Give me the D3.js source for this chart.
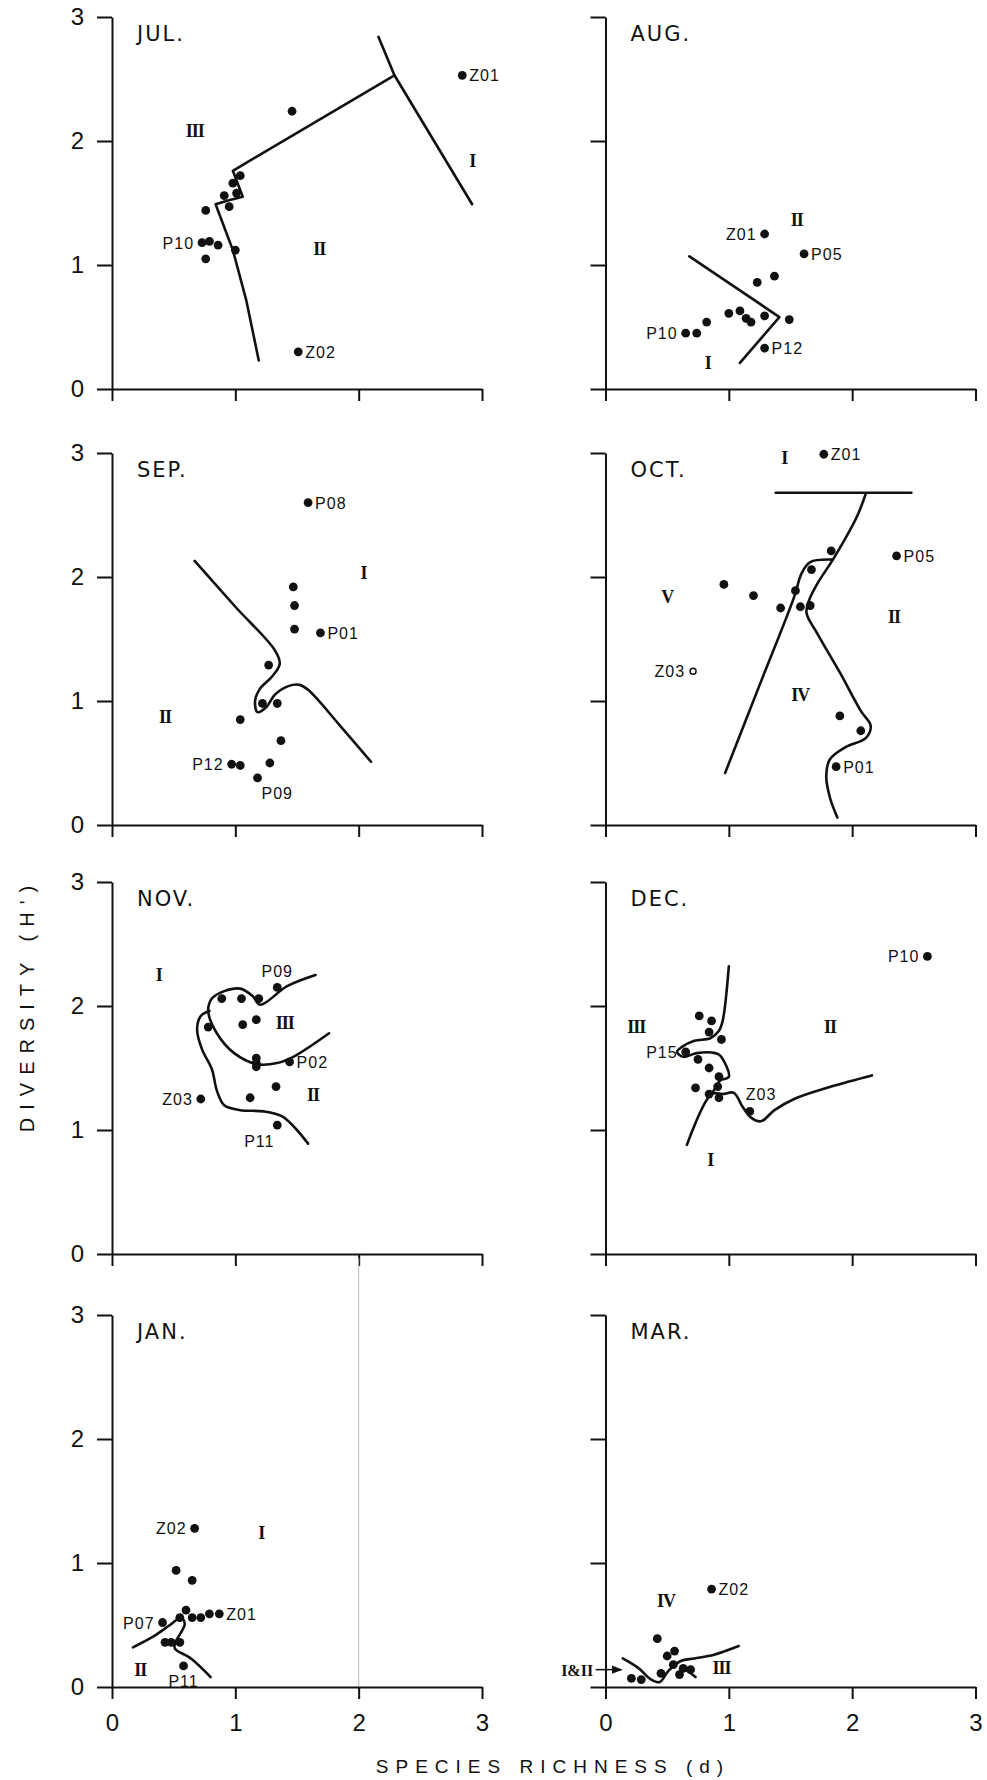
<!DOCTYPE html>
<html><head><meta charset="utf-8">
<script src="https://cdn.jsdelivr.net/npm/d3@7"></script>
<style>body{margin:0;background:#fff}</style>
</head><body>
<svg id="c" width="987" height="1780"></svg>
<script>
const months = ["JUL.","AUG.","SEP.","OCT.","NOV.","DEC.","JAN.","MAR."];
const xTicks = [0,1,2,3];
const yTicks = [0,1,2,3];
const xTickLabels = ["0","1","2","3"];
const yTickLabels = ["0","1","2","3"];
const xTitle = "SPECIES RICHNESS (d)";
const yTitle = "DIVERSITY (H')";

// points: [richness d, diversity H', station]
const julPoints = [[2.84,2.53,"Z01"],[1.46,2.24,""],[1.04,1.72,""],[0.98,1.66,""],[1.01,1.58,""],[0.91,1.56,""],[0.95,1.47,""],[0.76,1.44,""],[0.73,1.18,"P10"],[0.79,1.19,""],[0.86,1.16,""],[1.00,1.12,""],[0.76,1.05,""],[1.51,0.30,"Z02"]];
const augPoints = [[1.29,1.25,"Z01"],[1.61,1.09,"P05"],[1.37,0.91,""],[1.23,0.86,""],[1.00,0.61,""],[1.09,0.63,""],[1.14,0.57,""],[1.18,0.54,""],[1.29,0.59,""],[1.49,0.56,""],[0.82,0.54,""],[0.74,0.45,""],[0.65,0.45,"P10"],[1.29,0.33,"P12"]];
const sepPoints = [[1.59,2.60,"P08"],[1.47,1.92,""],[1.48,1.77,""],[1.48,1.58,""],[1.69,1.55,"P01"],[1.27,1.29,""],[1.22,0.98,""],[1.34,0.98,""],[1.04,0.85,""],[1.37,0.68,""],[0.97,0.49,"P12"],[1.04,0.48,""],[1.28,0.50,""],[1.18,0.38,"P09"]];
const octPoints = [[1.77,2.99,"Z01"],[2.36,2.17,"P05"],[1.83,2.21,""],[1.67,2.06,""],[0.96,1.94,""],[1.20,1.85,""],[1.54,1.89,""],[1.42,1.75,""],[1.58,1.76,""],[1.66,1.77,""],[1.90,0.88,""],[2.07,0.76,""],[1.87,0.47,"P01"],[0.71,1.24,"Z03"]];
const novPoints = [[1.34,2.15,"P09"],[0.89,2.06,""],[1.05,2.06,""],[1.19,2.06,""],[0.78,1.83,""],[1.06,1.85,""],[1.17,1.89,""],[1.17,1.58,""],[1.17,1.54,""],[1.17,1.51,""],[1.44,1.55,"P02"],[1.33,1.35,""],[1.12,1.26,""],[0.72,1.25,"Z03"],[1.34,1.04,"P11"]];
const decPoints = [[2.61,2.40,"P10"],[0.76,1.92,""],[0.86,1.88,""],[0.84,1.79,""],[0.94,1.73,""],[0.65,1.63,"P15"],[0.75,1.57,""],[0.84,1.50,""],[0.92,1.43,""],[0.91,1.35,""],[0.73,1.34,""],[0.84,1.29,""],[0.92,1.26,""],[1.17,1.15,"Z03"]];
const janPoints = [[0.67,1.28,"Z02"],[0.52,0.94,""],[0.65,0.86,""],[0.60,0.62,""],[0.65,0.56,""],[0.72,0.56,""],[0.79,0.59,""],[0.87,0.59,"Z01"],[0.41,0.52,"P07"],[0.55,0.56,""],[0.43,0.36,""],[0.48,0.36,""],[0.55,0.36,""],[0.58,0.17,"P11"]];
const marPoints = [[0.86,0.79,"Z02"],[0.42,0.39,""],[0.50,0.25,""],[0.56,0.29,""],[0.45,0.11,""],[0.60,0.10,""],[0.63,0.15,""],[0.69,0.14,""],[0.55,0.18,""],[0.21,0.07,""],[0.29,0.06,""]];

// boundary lines between groups
const julLines = [
  [[1.19,0.23],[1.09,0.71],[0.98,1.12],[0.84,1.49],[0.94,1.52],[1.06,1.55],[0.98,1.76],[2.29,2.53]],
  [[2.16,2.84],[2.29,2.53],[2.92,1.49]]
];
const augLines = [[[0.68,1.07],[1.41,0.58],[1.09,0.21]]];
const sepLines = [[[0.67,2.13],[1.00,1.76],[1.32,1.41],[1.36,1.30],[1.30,1.20],[1.20,1.10],[1.16,1.00],[1.18,0.91],[1.25,0.95],[1.32,1.05],[1.43,1.12],[1.52,1.13],[1.59,1.09],[1.85,0.80],[2.10,0.51]]];
const octLines = [
  [[1.38,2.68],[2.48,2.68]],
  [[0.97,0.42],[1.25,1.13],[1.53,1.84],[1.59,2.03],[1.66,2.12],[1.84,2.14]],
  [[2.11,2.67],[2.04,2.49],[1.85,2.15],[1.72,1.95],[1.65,1.81],[1.63,1.71],[1.72,1.54],[1.90,1.23],[2.07,0.92],[2.15,0.80],[2.11,0.70],[1.95,0.63],[1.82,0.53],[1.79,0.39],[1.82,0.22],[1.88,0.06]]
];
const novLines = [
  [[1.65,2.25],[1.42,2.16],[1.20,2.01],[1.14,2.08],[1.04,2.14],[0.91,2.12],[0.81,2.06],[0.78,1.96],[0.85,1.78],[0.99,1.62],[1.18,1.53],[1.34,1.54],[1.47,1.59],[1.76,1.78]],
  [[0.79,1.96],[0.72,1.92],[0.69,1.81],[0.73,1.65],[0.81,1.49],[0.85,1.32],[0.91,1.20],[1.04,1.16],[1.23,1.15],[1.38,1.11],[1.49,1.01],[1.59,0.89]]
];
const decLines = [
  [[1.00,2.32],[0.95,1.88],[0.92,1.80],[0.85,1.74],[0.72,1.72],[0.62,1.67],[0.58,1.63],[0.63,1.59],[0.74,1.62],[0.89,1.62],[0.93,1.60],[1.00,1.43],[0.93,1.40],[0.89,1.34],[0.86,1.29]],
  [[0.66,0.88],[0.86,1.29],[0.95,1.29],[1.04,1.30],[1.11,1.19],[1.18,1.10],[1.26,1.07],[1.37,1.16],[1.53,1.25],[1.83,1.35],[2.16,1.44]]
];
const janLines = [[[0.17,0.32],[0.34,0.41],[0.47,0.50],[0.56,0.56],[0.59,0.51],[0.51,0.35],[0.51,0.31],[0.64,0.23],[0.80,0.08]]];
const marLines = [
  [[0.14,0.23],[0.27,0.15],[0.37,0.06],[0.44,0.04],[0.51,0.13],[0.61,0.21],[0.72,0.23],[0.88,0.26],[1.08,0.33]],
  [[0.64,0.15],[0.73,0.08]]
];

// group (region) labels
const julRegions = [["III",0.67,2.08],["II",1.68,1.13],["I",2.92,1.84]];
const augRegions = [["II",1.55,1.36],["I",0.83,0.21]];
const sepRegions = [["II",0.43,0.87],["I",2.04,2.03]];
const octRegions = [["I",1.45,2.96],["V",0.50,1.84],["II",2.34,1.68],["IV",1.58,1.05]];
const novRegions = [["I",0.38,2.25],["III",1.40,1.86],["II",1.63,1.28]];
const decRegions = [["III",0.25,1.83],["II",1.82,1.83],["I",0.85,0.76]];
const janRegions = [["II",0.23,0.14],["I",1.21,1.24]];
const marRegions = [["IV",0.49,0.69],["III",0.94,0.15]];
const marArrowLabel = ["I&II",-0.10,0.14];
const marArrow = [[-0.08,0.14],[0.13,0.14]];

const openStations = {"OCT.":["Z03"]};
const labelSide = {"JUL.|P10":"l","AUG.|Z01":"l","AUG.|P10":"l","SEP.|P12":"l","SEP.|P09":"br","OCT.|Z03":"l","NOV.|P09":"t","NOV.|Z03":"l","NOV.|P11":"bl","DEC.|P10":"l","DEC.|P15":"l","DEC.|Z03":"tr","JAN.|Z02":"l","JAN.|P07":"l","JAN.|P11":"b"};
const linearMonths = ["JUL.","AUG."];

const panels = [
  [julPoints,julLines,julRegions],[augPoints,augLines,augRegions],
  [sepPoints,sepLines,sepRegions],[octPoints,octLines,octRegions],
  [novPoints,novLines,novRegions],[decPoints,decLines,decRegions],
  [janPoints,janLines,janRegions],[marPoints,marLines,marRegions]
];

const svg = d3.select("#c");
svg.append("defs").append("marker").attr("id","arr").attr("viewBox","0 0 10 10")
  .attr("refX",9).attr("refY",5).attr("markerWidth",7).attr("markerHeight",7).attr("orient","auto")
  .append("path").attr("d","M0,1 L10,5 L0,9 Z").attr("fill","#111");

const colX = [112, 605.5];
const rowY0 = [389, 825, 1254, 1687];
const W = 370, H = 372;
const sans = "'Liberation Sans', Arial, sans-serif";
const titleFont = "'DejaVu Sans', 'Liberation Sans', sans-serif";
const serif = "'Liberation Serif', 'DejaVu Serif', serif";

panels.forEach((p, i) => {
  const month = months[i];
  const col = i % 2, row = Math.floor(i / 2);
  const x = d3.scaleLinear().domain([0,3]).range([colX[col], colX[col] + W]);
  const y = d3.scaleLinear().domain([0,3]).range([rowY0[row], rowY0[row] - H]);
  const g = svg.append("g");

  if (month === "JAN.") {
    g.append("line").attr("x1", x(2)).attr("x2", x(2)).attr("y1", rowY0[2] + 4).attr("y2", rowY0[3] + 6)
      .attr("stroke", "#bbb").attr("stroke-width", 1);
  }

  const ax = g.append("g").attr("transform", `translate(${x(0)},0)`)
    .call(d3.axisLeft(y).tickValues(yTicks).tickSize(15).tickSizeOuter(0).tickPadding(13)
      .tickFormat((d, k) => col === 0 ? yTickLabels[k] : ""));
  const bx = g.append("g").attr("transform", `translate(0,${y(0)})`)
    .call(d3.axisBottom(x).tickValues(xTicks).tickSize(12).tickSizeOuter(0).tickPadding(15)
      .tickFormat((d, k) => row === 3 ? xTickLabels[k] : ""));
  [ax, bx].forEach(a => {
    a.selectAll("path,line").attr("stroke", "#111").attr("stroke-width", 2);
    a.selectAll("text").attr("fill", "#111").style("font-family", sans).style("font-size", "24px");
  });

  g.append("text").attr("x", x(0) + 25).attr("y", y(3) + 24).text(month)
    .style("font-family", titleFont).style("font-size", "21px").style("letter-spacing", "2px").attr("fill", "#111");

  const curve = linearMonths.includes(month) ? d3.curveLinear : d3.curveCatmullRom.alpha(0.5);
  const line = d3.line().x(d => x(d[0])).y(d => y(d[1])).curve(curve);
  g.selectAll(".bl").data(p[1]).enter().append("path")
    .attr("d", d => line(d)).attr("fill", "none")
    .attr("stroke", "#111").attr("stroke-width", 2.6).attr("stroke-linejoin", "round").attr("stroke-linecap", "round");

  const opens = openStations[month] || [];
  g.selectAll(".pt").data(p[0]).enter().append("circle")
    .attr("cx", d => x(d[0])).attr("cy", d => y(d[1]))
    .attr("r", d => opens.includes(d[2]) ? 3 : 4.4)
    .attr("fill", d => opens.includes(d[2]) ? "#fff" : "#111")
    .attr("stroke", "#111").attr("stroke-width", d => opens.includes(d[2]) ? 1.5 : 0);

  p[0].filter(d => d[2]).forEach(d => {
    const side = labelSide[month + "|" + d[2]] || "r";
    const px = x(d[0]), py = y(d[1]);
    let tx = px + 7, ty = py + 6, anchor = "start";
    if (side === "l") { tx = px - 8; anchor = "end"; }
    if (side === "t") { tx = px; ty = py - 10; anchor = "middle"; }
    if (side === "b") { tx = px; ty = py + 21; anchor = "middle"; }
    if (side === "br") { tx = px + 4; ty = py + 21; }
    if (side === "bl") { tx = px - 18; ty = py + 22; anchor = "middle"; }
    if (side === "tr") { tx = px - 4; ty = py - 11; }
    g.append("text").attr("x", tx).attr("y", ty).attr("text-anchor", anchor).text(d[2])
      .style("font-family", sans).style("font-size", "16px").style("letter-spacing", "1px").attr("fill", "#111");
  });

  g.selectAll(".rg").data(p[2]).enter().append("text")
    .attr("x", d => x(d[1])).attr("y", d => y(d[2]) + 6).attr("text-anchor", "middle").text(d => d[0])
    .style("font-family", serif).style("font-size", "18px").style("font-weight", "bold").style("letter-spacing", "-1px").attr("fill", "#111");

  if (month === "MAR.") {
    g.append("text").attr("x", x(marArrowLabel[1])).attr("y", y(marArrowLabel[2]) + 6).attr("text-anchor", "end")
      .text(marArrowLabel[0]).style("font-family", serif).style("font-size", "16px").style("font-weight", "bold").attr("fill", "#111");
    g.append("path").attr("d", d3.line().x(d => x(d[0])).y(d => y(d[1]))(marArrow))
      .attr("stroke", "#111").attr("stroke-width", 1.5).attr("marker-end", "url(#arr)");
  }
});

svg.append("text").attr("x", 553).attr("y", 1773).attr("text-anchor", "middle").text(xTitle)
  .style("font-family", sans).style("font-size", "19px").style("letter-spacing", "7px").attr("fill", "#111");
svg.append("text").attr("transform", "translate(34,1005) rotate(-90)").attr("text-anchor", "middle").text(yTitle)
  .style("font-family", sans).style("font-size", "20px").style("letter-spacing", "8px").attr("fill", "#111");
</script>
</body></html>
